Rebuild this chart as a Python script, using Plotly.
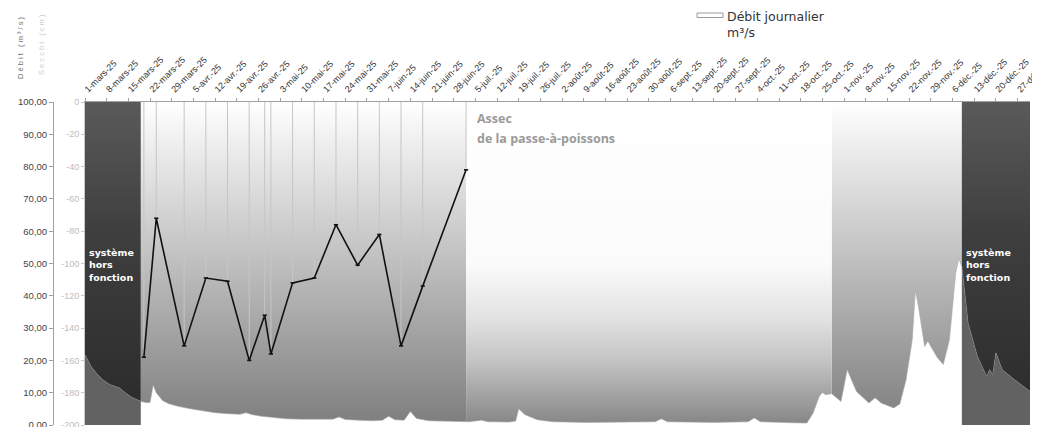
import pandas as pd
import plotly.graph_objects as go

# ---------------- data ----------------
tick_labels = ["1-mars-25", "8-mars-25", "15-mars-25", "22-mars-25", "29-mars-25",
               "5-avr.-25", "12-avr.-25", "19-avr.-25", "26-avr.-25", "3-mai-25",
               "10-mai-25", "17-mai-25", "24-mai-25", "31-mai-25", "7-juin-25",
               "14-juin-25", "21-juin-25", "28-juin-25", "5-juil.-25", "12-juil.-25",
               "19-juil.-25", "26-juil.-25", "2-août-25", "9-août-25", "16-août-25",
               "23-août-25", "30-août-25", "6-sept.-25", "13-sept.-25", "20-sept.-25",
               "27-sept.-25", "4-oct.-25", "11-oct.-25", "18-oct.-25", "25-oct.-25",
               "1-nov.-25", "8-nov.-25", "15-nov.-25", "22-nov.-25", "29-nov.-25",
               "6-déc.-25", "13-déc.-25", "20-déc.-25", "27-déc.-25"]
tick_dates = pd.date_range("2025-03-01", periods=len(tick_labels), freq="7D")

# Débit journalier (m³/s)
debit_dates = ["2025-03-01", "2025-03-03", "2025-03-05", "2025-03-07", "2025-03-09",
               "2025-03-12", "2025-03-14", "2025-03-16", "2025-03-19", "2025-03-21",
               "2025-03-22", "2025-03-23", "2025-03-24", "2025-03-26", "2025-03-28",
               "2025-03-31", "2025-04-04", "2025-04-08", "2025-04-12", "2025-04-16",
               "2025-04-20", "2025-04-22", "2025-04-24", "2025-04-27", "2025-05-01",
               "2025-05-05", "2025-05-10", "2025-05-15", "2025-05-20", "2025-05-22",
               "2025-05-24", "2025-05-28", "2025-06-02", "2025-06-05", "2025-06-07",
               "2025-06-09", "2025-06-12", "2025-06-14", "2025-06-16", "2025-06-20",
               "2025-06-26", "2025-07-03", "2025-07-07", "2025-07-09", "2025-07-16",
               "2025-07-18", "2025-07-19", "2025-07-21", "2025-07-25", "2025-07-30",
               "2025-08-10", "2025-08-25", "2025-09-01", "2025-09-03", "2025-09-05",
               "2025-09-20", "2025-10-01", "2025-10-03", "2025-10-05", "2025-10-15",
               "2025-10-20", "2025-10-22", "2025-10-24", "2025-10-25", "2025-10-26",
               "2025-10-28", "2025-10-31", "2025-11-02", "2025-11-05", "2025-11-09",
               "2025-11-11", "2025-11-13", "2025-11-17", "2025-11-19", "2025-11-21",
               "2025-11-23", "2025-11-24", "2025-11-25", "2025-11-27", "2025-11-28",
               "2025-11-29", "2025-12-01", "2025-12-03", "2025-12-05", "2025-12-07",
               "2025-12-08", "2025-12-09", "2025-12-11", "2025-12-14", "2025-12-17",
               "2025-12-18", "2025-12-19", "2025-12-20", "2025-12-22", "2025-12-26",
               "2025-12-31"]
debit_values = [21.7, 18.0, 15.6, 13.8, 12.5,
                11.5, 10.0, 8.6, 7.3, 6.9,
                7.0, 12.3, 10.0, 7.6, 6.6,
                5.8, 5.0, 4.4, 3.8, 3.5,
                3.3, 3.8, 3.2, 2.7, 2.2,
                1.9, 1.8, 1.7, 1.8, 2.5,
                1.7, 1.5, 1.3, 1.5, 2.7,
                1.6, 1.5, 4.2, 2.0, 1.3,
                1.1, 1.0, 1.5, 1.0, 0.9,
                1.2, 5.0, 3.2, 1.6, 1.0,
                0.8, 0.8, 1.0, 1.9, 1.0,
                0.8, 1.0, 2.2, 1.0, 0.7,
                0.6, 3.7, 8.9, 10.1, 9.4,
                9.7, 7.3, 17.1, 10.4, 6.8,
                8.4, 6.8, 5.3, 6.5, 14.0,
                26.4, 41.8, 36.7, 24.3, 26.0,
                24.3, 21.0, 18.7, 26.4, 47.0,
                51.6, 49.0, 31.5, 21.2, 15.0,
                17.1, 15.5, 22.3, 17.1, 14.0,
                10.4]

# Secchi (cm)
secchi_dates = ["2025-03-20", "2025-03-24", "2025-04-02", "2025-04-09", "2025-04-16",
                "2025-04-23", "2025-04-28", "2025-04-30", "2025-05-07", "2025-05-14",
                "2025-05-21", "2025-05-28", "2025-06-04", "2025-06-11", "2025-06-18",
                "2025-07-02"]
secchi_values = [-158, -72, -151, -109, -111,
                 -160, -132, -156, -112, -109,
                 -76, -101, -82, -151, -114,
                 -42]

# periods
hors_fonction_starts = ["2025-03-01", "2025-12-09"]
hors_fonction_ends = ["2025-03-19", "2025-12-31"]
suivi_starts = ["2025-03-19", "2025-10-28"]
suivi_ends = ["2025-07-02", "2025-12-09"]
assec_start = "2025-07-02"
assec_end = "2025-10-28"
debit_range = [0, 100]

FONT = "Liberation Sans"

fig = go.Figure()


def band(x0, x1, scale, name):
    fig.add_trace(go.Scatter(
        x=[x0, x1, x1, x0, x0],
        y=[debit_range[0], debit_range[0], debit_range[1], debit_range[1], debit_range[0]],
        fill="toself", mode="lines", line=dict(width=0),
        fillgradient=dict(type="vertical", colorscale=scale),
        hoverinfo="skip", showlegend=False, name=name, yaxis="y"))


grad_suivi = [[0, "#7e7e7e"], [1, "#ffffff"]]
grad_assec = [[0, "#858585"], [0.2, "#c4c4c4"], [0.33, "#e2e2e2"], [0.5, "#fbfbfb"], [1, "#ffffff"]]
grad_dark = [[0, "#2a2a2a"], [0.6, "#3f3f3f"], [1, "#5a5a5a"]]

for s, e in zip(suivi_starts, suivi_ends):
    band(s, e, grad_suivi, "suivi")
band(assec_start, assec_end, grad_assec, "assec")
for s, e in zip(hors_fonction_starts, hors_fonction_ends):
    band(s, e, grad_dark, "hors fonction")

# débit area (white)
fig.add_trace(go.Scatter(
    x=debit_dates, y=debit_values, mode="lines", fill="tozeroy",
    fillcolor="#ffffff", line=dict(color="#a8a8a8", width=0.6),
    name="Débit journalier m³/s", showlegend=False, yaxis="y", hoverinfo="skip"))

# débit area inside the "hors fonction" periods
dd = pd.DataFrame({"d": pd.to_datetime(debit_dates), "v": debit_values})
for s, e in zip(hors_fonction_starts, hors_fonction_ends):
    sub = dd[(dd.d >= pd.Timestamp(s)) & (dd.d <= pd.Timestamp(e))]
    fig.add_trace(go.Scatter(
        x=sub.d, y=sub.v, mode="lines", fill="tozeroy", fillcolor="#626262",
        line=dict(width=0), showlegend=False, yaxis="y", hoverinfo="skip"))

# Secchi line with drop lines to the top
fig.add_trace(go.Scatter(
    x=secchi_dates, y=secchi_values, mode="lines+markers",
    line=dict(color="#111111", width=1.6),
    marker=dict(symbol="line-ew", size=3, line=dict(color="#111111", width=1.6)),
    error_y=dict(type="data", symmetric=False,
                 array=[-v for v in secchi_values],
                 arrayminus=[0] * len(secchi_values),
                 width=0, thickness=1, color="#c6c6c6"),
    showlegend=False, yaxis="y2", hoverinfo="skip"))

# The page body keeps an 8 px margin, so the figure is sized to fill the rest
OFF = 8
W, H = 1040 - OFF, 427 - OFF
ml, mr, mt, mb = 0, 10, 94, 2
pw = W - ml - mr
ph = H - mt - mb


def px_x(p):
    return (p - OFF - ml) / pw


def px_y(p):
    return 1 + (mt - (p - OFF)) / ph


fig.update_layout(
    width=W, height=H,
    margin=dict(l=ml, r=mr, t=mt, b=mb, autoexpand=False),
    paper_bgcolor="white", plot_bgcolor="white",
    font=dict(family=FONT, color="#333333"),
    showlegend=False,
    xaxis=dict(type="date", range=["2025-03-01", "2025-12-31"], side="top",
               domain=[px_x(85), 1], tickvals=tick_dates, ticktext=tick_labels,
               tickangle=-45, tickfont=dict(size=9, color="#333333"),
               ticklabeloverflow="allow",
               showline=True, linecolor="#a0a0a0", linewidth=1,
               ticks="outside", ticklen=3, tickcolor="#a0a0a0",
               showgrid=False, zeroline=False, anchor="y", automargin=False),
    yaxis=dict(range=debit_range, tickvals=list(range(0, 101, 10)),
               ticktext=[f"{v},00" for v in range(0, 101, 10)],
               tickfont=dict(size=9.5, color="#444444"),
               ticklabeloverflow="allow",
               anchor="free", position=px_x(53), side="left",
               showline=True, linecolor="#a0a0a0", ticks="outside", ticklen=4,
               tickcolor="#a0a0a0", showgrid=False, zeroline=False, automargin=False),
    yaxis2=dict(range=[-200, 0], tickvals=list(range(-200, 1, 20)),
                ticktext=[str(v) for v in range(-200, 1, 20)],
                tickfont=dict(size=9, color="#bdbdbd"),
                ticklabeloverflow="allow",
                overlaying="y", side="left", anchor="x",
                showline=True, linecolor="#c8c8c8", ticks="outside", ticklen=3,
                tickcolor="#c8c8c8", showgrid=False, zeroline=False, automargin=False),
)

# legend entry for the débit series
fig.add_shape(type="rect", xref="paper", yref="paper",
              x0=px_x(697), x1=px_x(723), y0=px_y(17.5), y1=px_y(13),
              fillcolor="white", line=dict(color="#9a9a9a", width=1))
fig.add_annotation(text="Débit journalier<br>m³/s", x=px_x(725), y=px_y(7),
                   xref="paper", yref="paper", xanchor="left", yanchor="top",
                   align="left", showarrow=False,
                   font=dict(size=12.5, color="#333333", family="DejaVu Sans"))

# axis titles
fig.add_annotation(text="D é b i t   ( m ³ / s )", x=px_x(20), y=px_y(48), xref="paper", yref="paper",
                   xanchor="center", yanchor="middle",
                   textangle=-90, showarrow=False, font=dict(size=7.5, color="#6e6e6e"))
fig.add_annotation(text="S e c c h i   ( c m )", x=px_x(42), y=px_y(45), xref="paper", yref="paper",
                   xanchor="center", yanchor="middle",
                   textangle=-90, showarrow=False, font=dict(size=7.5, color="#cccccc"))

# region labels
for s in hors_fonction_starts:
    fig.add_annotation(text="système<br>hors<br>fonction", x=s, y=49.6, xref="x", yref="y",
                       xanchor="left", yanchor="middle", align="left", xshift=2,
                       showarrow=False,
                       font=dict(size=9.5, color="white", family="DejaVu Sans", weight="bold"))
fig.add_annotation(text="Assec", x=assec_start, y=95, xref="x", yref="y",
                   xanchor="left", yanchor="middle", xshift=9, showarrow=False,
                   font=dict(size=12.5, color="#9a9a9a", family="Open Sans", weight="bold"))
fig.add_annotation(text="de la passe-à-poissons", x=assec_start, y=88.8, xref="x", yref="y",
                   xanchor="left", yanchor="middle", xshift=9, showarrow=False,
                   font=dict(size=12.5, color="#9a9a9a", family="Open Sans", weight="bold"))

fig.write_html("out.html")
